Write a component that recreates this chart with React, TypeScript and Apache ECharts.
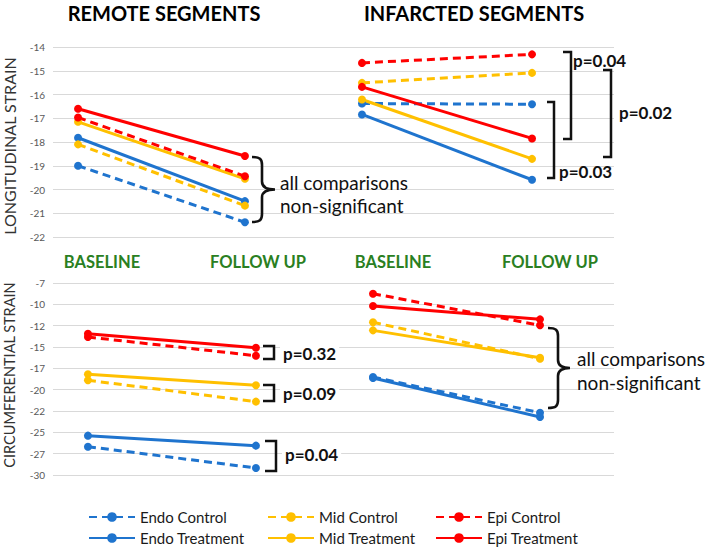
import React, { useEffect, useRef } from "react";
import * as echarts from "echarts";

// ---------- data ----------
const phases = ["BASELINE", "FOLLOW UP"];
const seriesNames = ["Endo Control", "Endo Treatment", "Mid Control", "Mid Treatment", "Epi Control", "Epi Treatment"];
const seriesColors = ["#1F74CE", "#1F74CE", "#FFC000", "#FFC000", "#FF0000", "#FF0000"];
const seriesDashed = [true, false, true, false, true, false];

// values per series (order of seriesNames): [baseline, follow up]
const remoteLongitudinal = [[-19.0, -21.38], [-17.82, -20.49], [-18.1, -20.68], [-17.15, -19.55], [-16.97, -19.44], [-16.6, -18.59]];
const infarctedLongitudinal = [[-16.38, -16.41], [-16.84, -19.59], [-15.51, -15.09], [-16.21, -18.71], [-14.67, -14.31], [-15.68, -17.85]];
const remoteCircumferential = [[-26.68, -29.18], [-25.39, -26.56], [-18.9, -21.4], [-18.2, -19.49], [-13.83, -16.02], [-13.44, -15.08]];
const infarctedCircumferential = [[-18.52, -22.7], [-18.63, -23.2], [-12.11, -16.37], [-13.05, -16.25], [-8.75, -12.46], [-10.2, -11.76]];

const longitudinalTicks = ["-22", "-21", "-20", "-19", "-18", "-17", "-16", "-15", "-14"];
const circumferentialTicks = ["-30", "-27", "-25", "-22", "-20", "-17", "-15", "-12", "-10", "-7"];

const FONT = "Lato, 'Open Sans', sans-serif";

function bracePath(x0: number, yTop: number, yBot: number, stemX: number, tipX: number) {
  const ym = (yTop + yBot) / 2;
  const r = 8;
  return (
    `M${x0},${yTop} C${stemX - 2},${yTop} ${stemX},${yTop + 2} ${stemX},${yTop + r} ` +
    `L${stemX},${ym - r} C${stemX},${ym - 3} ${stemX + 3},${ym} ${tipX},${ym} ` +
    `C${stemX + 3},${ym} ${stemX},${ym + 3} ${stemX},${ym + r} ` +
    `L${stemX},${yBot - r} C${stemX},${yBot - 2} ${stemX - 2},${yBot} ${x0},${yBot}`
  );
}

export default function App() {
  const ref = useRef<HTMLDivElement>(null);
  useEffect(() => {
    if (!ref.current) return;
    echarts.graphic.registerShape("braceA", (echarts.graphic as any).extendPath(bracePath(252, 157, 222, 262, 275), {}));
    echarts.graphic.registerShape("braceB", (echarts.graphic as any).extendPath(bracePath(548, 328, 408, 558, 570), {}));
    const chart = echarts.init(ref.current, undefined, { renderer: "svg" });

    const panels = [
      { data: remoteLongitudinal, left: 53, width: 252, top: 47, height: 190, xmin: -0.15, xmax: 1.36, long: true },
      { data: infarctedLongitudinal, left: 305, width: 309, top: 47, height: 190, xmin: -0.335, xmax: 1.482, long: true },
      { data: remoteCircumferential, left: 53, width: 252, top: 283, height: 192, xmin: -0.208, xmax: 1.292, long: false },
      { data: infarctedCircumferential, left: 305, width: 309, top: 283, height: 192, xmin: -0.407, xmax: 1.443, long: false },
    ];

    const grid = panels.map((p) => ({ left: p.left, top: p.top, width: p.width, height: p.height }));
    const xAxis = panels.map((p, i) => ({ type: "value", gridIndex: i, min: p.xmin, max: p.xmax, show: false }));
    const yAxis = panels.map((p, i) => ({
      type: "value",
      gridIndex: i,
      min: p.long ? -22 : -30,
      max: p.long ? -14 : -7.5,
      interval: p.long ? 1 : 2.5,
      axisLine: { show: false },
      axisTick: { show: false },
      splitLine: { lineStyle: { color: "#D9D9D9", width: 1 } },
      axisLabel: {
        show: i % 2 === 0,
        margin: 8,
        fontSize: 10,
        fontFamily: FONT,
        color: "#595959",
        formatter: (v: number) =>
          p.long ? longitudinalTicks[Math.round(v + 22)] : circumferentialTicks[Math.round((v + 30) / 2.5)],
      },
    }));

    const series: any[] = [];
    panels.forEach((p, pi) => {
      seriesNames.forEach((name, si) => {
        series.push({
          type: "line",
          name,
          xAxisIndex: pi,
          yAxisIndex: pi,
          data: p.data[si].map((v, k) => ({ value: [k, v], name: phases[k] })),
          symbol: "circle",
          symbolSize: 8,
          lineStyle: { color: seriesColors[si], width: 3, type: seriesDashed[si] ? [8, 5] : "solid" },
          itemStyle: { color: seriesColors[si] },
          z: 2,
        });
      });
    });

    const legendLefts = [88, 88, 267, 267, 435, 435];
    const legendTops = [509, 530, 509, 530, 509, 530];
    const legend = seriesNames.map((name, i) => ({
      left: legendLefts[i],
      top: legendTops[i],
      orient: "horizontal",
      padding: 0,
      itemWidth: 46,
      itemHeight: 12,
      itemGap: 5,
      textStyle: { fontSize: 15, fontFamily: FONT, color: "#1a1a1a", lineHeight: 16 },
      selectedMode: false,
      data: [name],
    }));

    const txt = (text: string, x: number, y: number, size: number, weight: string, fill: string, align = "left", extra: any = {}, bg?: string) => ({
      type: "text",
      x,
      y,
      z: 100,
      ...extra,
      style: {
        text,
        fontSize: size,
        fontWeight: weight,
        fontFamily: FONT,
        fill,
        textAlign: align,
        align,
        textVerticalAlign: "middle",
        verticalAlign: "middle",
        ...(bg ? { backgroundColor: bg, padding: [1, 3] } : {}),
      },
    });
    const bracket = (x0: number, x1: number, y0: number, y1: number) => ({
      type: "polyline",
      z: 100,
      shape: { points: [[x0, y0], [x1, y0], [x1, y1], [x0, y1]] },
      style: { stroke: "#111", lineWidth: 2.5, fill: "none" },
    });
    const green = "#2A7F22";

    const graphic = [
      txt("REMOTE SEGMENTS", 164, 13, 20, "bold", "#000", "center"),
      txt("INFARCTED SEGMENTS", 474, 13, 20, "bold", "#000", "center"),
      txt("BASELINE", 102, 262, 16.5, "bold", green, "center"),
      txt("FOLLOW UP", 258, 262, 16.5, "bold", green, "center"),
      txt("BASELINE", 393, 262, 16.5, "bold", green, "center"),
      txt("FOLLOW UP", 550, 262, 16.5, "bold", green, "center"),
      txt("LONGITUDINAL STRAIN", 9, 146, 16, "normal", "#333", "center", { rotation: Math.PI / 2 }),
      txt("CIRCUMFERENTIAL STRAIN", 9, 375, 14.5, "normal", "#333", "center", { rotation: Math.PI / 2 }),
      { type: "braceA", z: 100, style: { stroke: "#111", lineWidth: 2.6, fill: "none" } },
      txt("all comparisons", 280, 182, 19, "normal", "#111"),
      txt("non-significant", 280, 205, 19, "normal", "#111"),
      { type: "braceB", z: 100, style: { stroke: "#111", lineWidth: 2.6, fill: "none" } },
      txt("all comparisons", 577, 358, 19, "normal", "#111"),
      txt("non-significant", 577, 382, 19, "normal", "#111"),
      bracket(563, 571, 52, 139),
      txt("p=0.04", 573, 60, 17, "bold", "#111"),
      bracket(603, 611, 70, 157),
      txt("p=0.02", 619, 112, 17, "bold", "#111"),
      bracket(547, 554, 102, 178),
      txt("p=0.03", 559, 171, 17, "bold", "#111"),
      bracket(263, 274, 346, 359),
      txt("p=0.32", 280, 353, 17, "bold", "#111", "left", {}, "#fff"),
      bracket(263, 274, 385, 401),
      txt("p=0.09", 280, 393, 17, "bold", "#111", "left", {}, "#fff"),
      bracket(265, 276, 441, 471),
      txt("p=0.04", 282, 454, 17, "bold", "#111", "left", {}, "#fff"),
    ];

    chart.setOption({
      animation: false,
      backgroundColor: "#fff",
      grid,
      xAxis,
      yAxis,
      legend,
      series,
      graphic,
    } as any);
    return () => chart.dispose();
  }, []);
  return <div ref={ref} style={{ width: 708, height: 548, position: "absolute", left: 0, top: 0 }} />;
}
